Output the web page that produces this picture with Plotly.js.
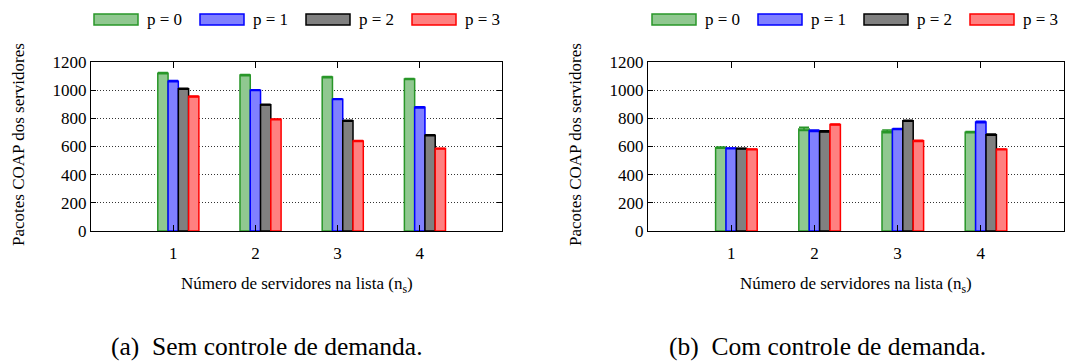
<!DOCTYPE html>
<html>
<head>
<meta charset="utf-8">
<script src="https://cdn.plot.ly/plotly-3.0.1.min.js"></script>
<style>html,body{margin:0;padding:0;background:#fff;}#chart{width:1066px;height:362px;}</style>
</head>
<body>
<div id="chart"></div>
<script>
// ---- data ----
const categories = [1, 2, 3, 4];
const seriesNames = ['p = 0', 'p = 1', 'p = 2', 'p = 3'];

// (a) Sem controle de demanda
const semP0 = [1121, 1107, 1093, 1079];
const semP1 = [1064, 1000, 936, 878];
const semP2 = [1010, 897, 783, 680];
const semP3 = [955, 793, 639, 585];
const semErr0 = [4, 4, 4, 4];
const semErr1 = [4, 3, 3, 4];
const semErr2 = [3, 3, 3, 3];
const semErr3 = [3, 3, 3, 3];

// (b) Com controle de demanda
const comP0 = [592, 725, 708, 702];
const comP1 = [587, 712, 724, 774];
const comP2 = [585, 707, 783, 684];
const comP3 = [580, 756, 640, 580];
const comErr0 = [4, 12, 10, 5];
const comErr1 = [3, 5, 4, 5];
const comErr2 = [3, 4, 4, 4];
const comErr3 = [3, 4, 4, 3];

const yTicks = [0, 200, 400, 600, 800, 1000, 1200];
const captions = ['(a)\u00a0 Sem controle de demanda.', '(b)\u00a0 Com controle de demanda.'];
const yTitle = 'Pacotes COAP dos servidores';
const xTitle = 'Número de servidores na lista (n<sub>s</sub>)';

// ---- styles ----
const fills = ['rgb(144,200,144)', 'rgb(128,128,255)', 'rgb(128,128,128)', 'rgb(255,128,128)'];
const borders = ['rgb(40,150,40)', 'rgb(0,0,255)', 'rgb(0,0,0)', 'rgb(255,0,0)'];
const barW = 0.125;
const offsets = [-0.1875, -0.0625, 0.0625, 0.1875];
const FONT = 'Liberation Serif';

const panels = [
  {vals: [semP0, semP1, semP2, semP3], errs: [semErr0, semErr1, semErr2, semErr3], xa: 'x', ya: 'y'},
  {vals: [comP0, comP1, comP2, comP3], errs: [comErr0, comErr1, comErr2, comErr3], xa: 'x2', ya: 'y2'}
];

const traces = [];
panels.forEach(p => {
  p.vals.forEach((v, i) => {
    traces.push({
      type: 'bar', x: categories, y: v, name: seriesNames[i],
      xaxis: p.xa, yaxis: p.ya, width: barW, offset: offsets[i],
      marker: {color: fills[i], line: {color: borders[i], width: 1.5}},
      error_y: {type: 'data', array: p.errs[i], visible: true, color: borders[i], thickness: 1.5, width: 5},
      showlegend: false, hoverinfo: 'skip'
    });
  });
});

const W = 1066, H = 362;
const dom = [[91 / W, 502 / W], [648 / W, 1064 / W]];
const yDom = [1 - 231 / H, 1 - 62 / H];

function xAxis(d, anchor) {
  return {domain: d, anchor: anchor, range: [0, 5], tickvals: categories, ticktext: categories.map(String),
    ticks: 'inside', ticklen: 6, tickcolor: '#000', showline: true, linecolor: '#000', linewidth: 1,
    mirror: 'allticks', showgrid: false, zeroline: false, ticklabelstandoff: 7,
    tickfont: {family: FONT, size: 17, color: '#000'}, fixedrange: true};
}
function yAxis(anchor) {
  return {domain: yDom, anchor: anchor, range: [0, 1200], tickvals: yTicks, ticks: 'inside', ticklen: 5,
    tickcolor: '#000', showline: true, linecolor: '#000', linewidth: 1, mirror: 'allticks',
    showgrid: true, gridcolor: '#333', griddash: '1px,2px', gridwidth: 1, zeroline: false,
    tickfont: {family: FONT, size: 17, color: '#000'}, fixedrange: true};
}

const shapes = [];
const annotations = [];
const legendStarts = [94, 652];
const legendStep = 106;
legendStarts.forEach(s => {
  seriesNames.forEach((n, i) => {
    const x0 = s + i * legendStep;
    shapes.push({type: 'rect', xref: 'paper', yref: 'paper', x0: x0 / W, x1: (x0 + 44) / W,
      y0: 1 - 25 / H, y1: 1 - 14 / H, fillcolor: fills[i], line: {color: borders[i], width: 1.5}});
    annotations.push({xref: 'paper', yref: 'paper', x: (x0 + 51) / W, y: 1 - 19.5 / H, xanchor: 'left', yanchor: 'middle',
      text: n, showarrow: false, font: {family: FONT, size: 17, color: '#000'}});
  });
});
dom.forEach((d, k) => {
  const cx = (d[0] + d[1]) / 2;
  annotations.push({xref: 'paper', yref: 'paper', x: cx, y: 1 - 285 / H, xanchor: 'center', yanchor: 'middle',
    text: xTitle, showarrow: false, font: {family: FONT, size: 17, color: '#000'}});
  annotations.push({xref: 'paper', yref: 'paper', x: d[0] - 73 / W, y: 1 - 145 / H, xanchor: 'center', yanchor: 'middle',
    text: yTitle, textangle: -90, showarrow: false, font: {family: FONT, size: 17, color: '#000'}});
  annotations.push({xref: 'paper', yref: 'paper', x: [267, 827][k] / W, y: 0, xanchor: 'center', yanchor: 'bottom',
    borderpad: 0, text: captions[k], showarrow: false, font: {family: FONT, size: 25.5, color: '#000'}});
});

const layout = {
  width: W, height: H, margin: {l: 0, r: 0, t: 0, b: 0}, paper_bgcolor: '#fff', plot_bgcolor: '#fff',
  barmode: 'overlay', showlegend: false,
  xaxis: xAxis(dom[0], 'y'), yaxis: yAxis('x'),
  xaxis2: xAxis(dom[1], 'y2'), yaxis2: yAxis('x2'),
  shapes: shapes, annotations: annotations, font: {family: FONT, color: '#000'}
};

Plotly.newPlot('chart', traces, layout, {staticPlot: true, displayModeBar: false});
</script>
</body>
</html>
